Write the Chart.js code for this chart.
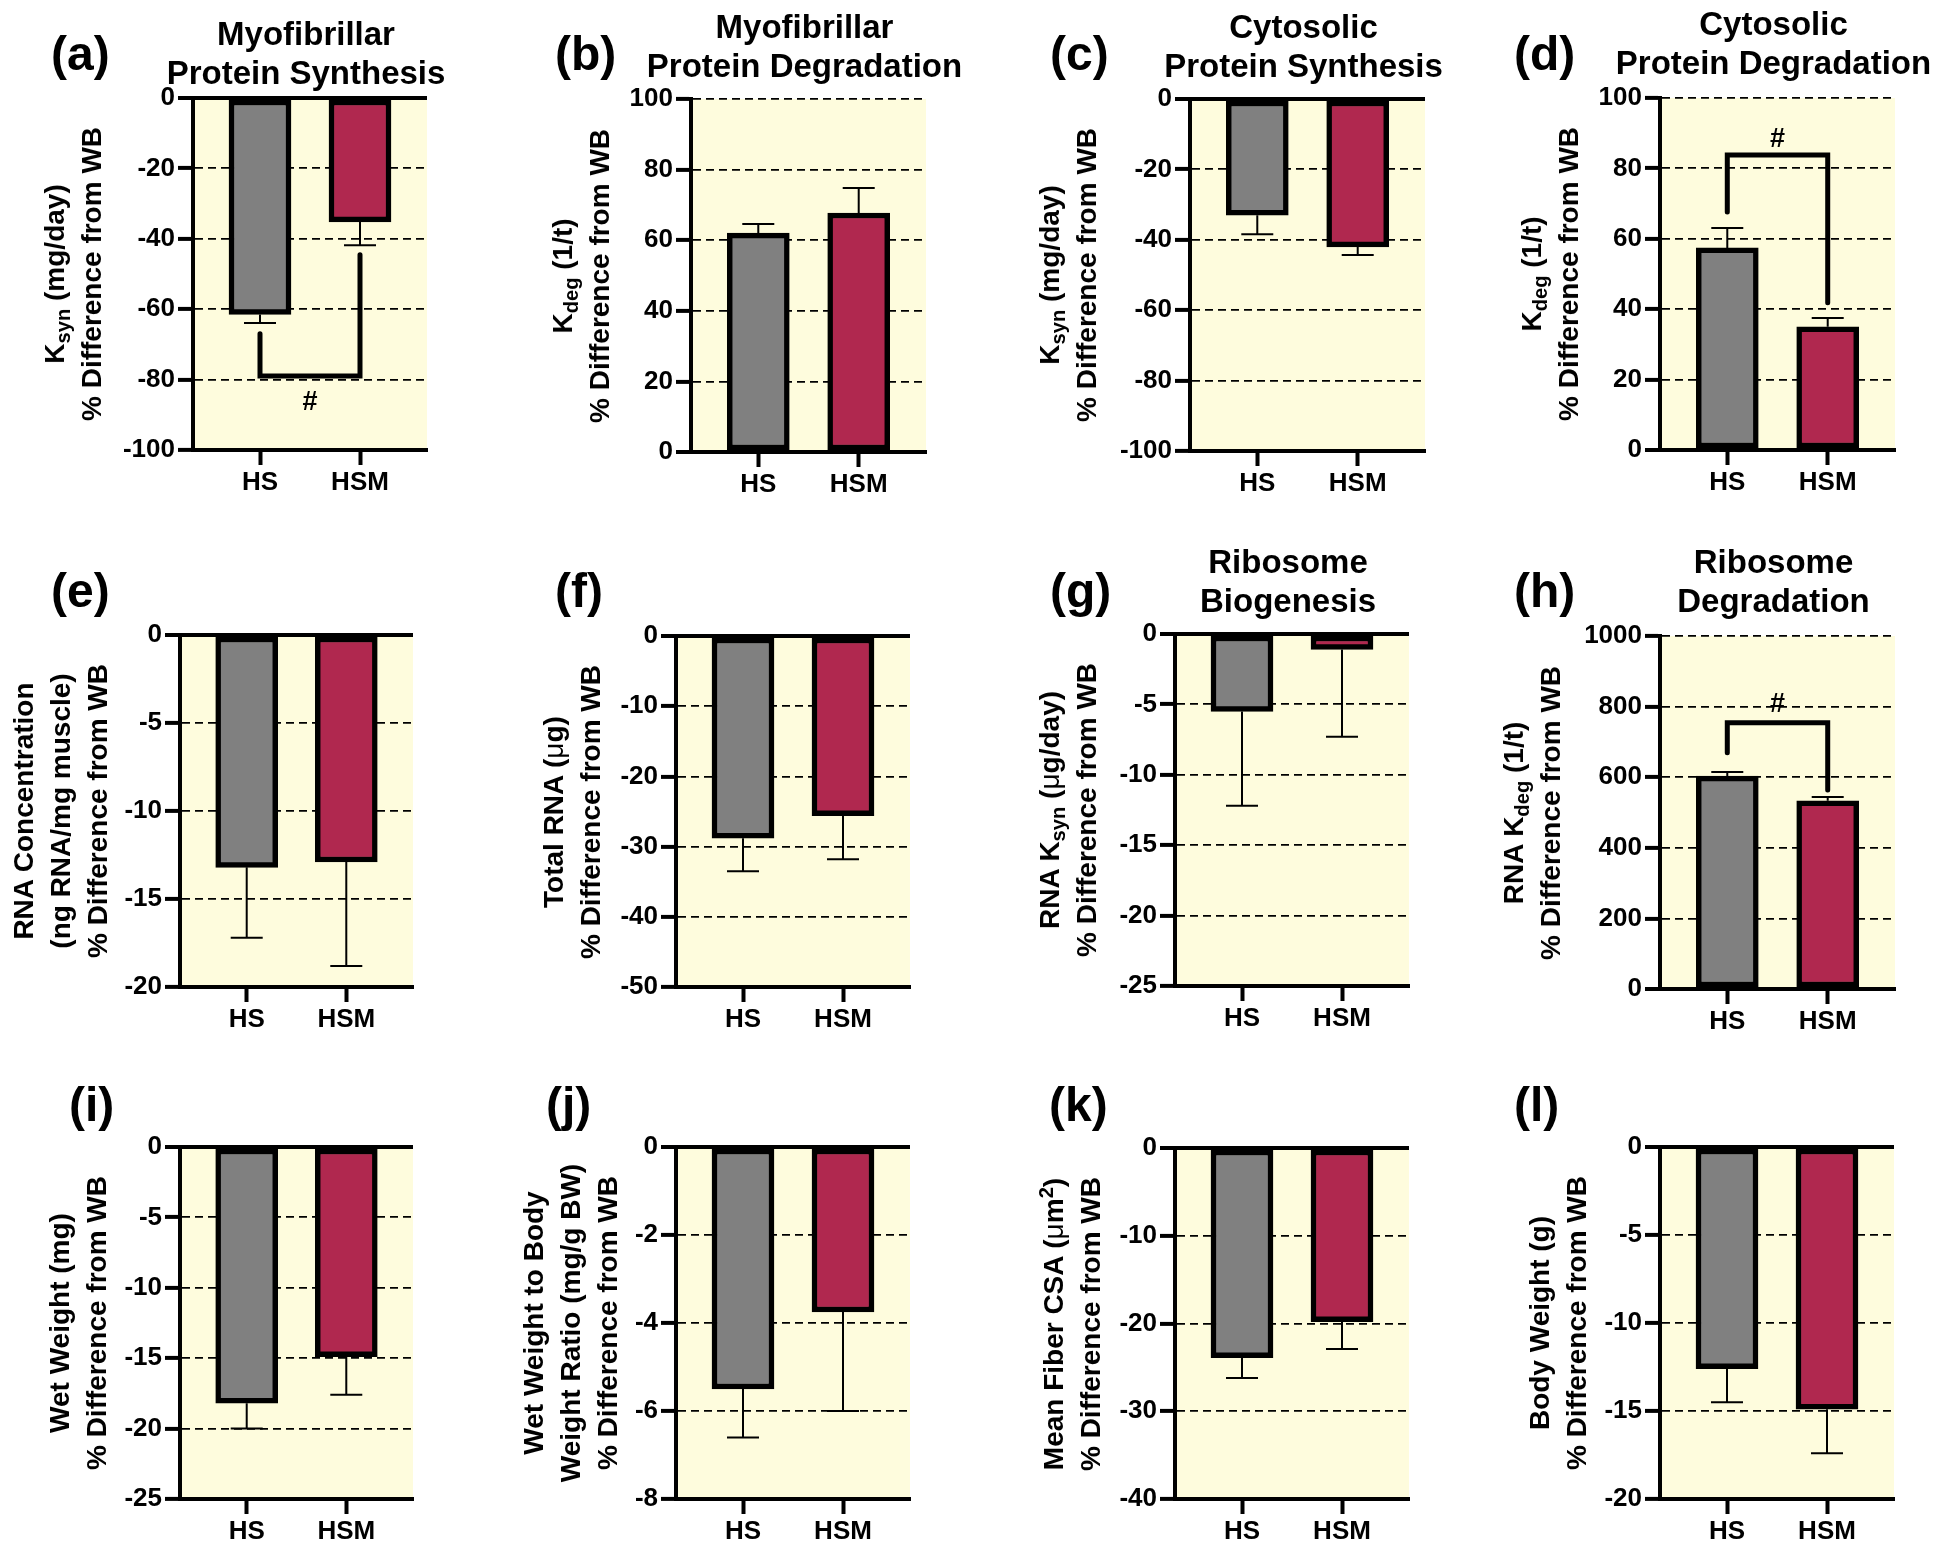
<!DOCTYPE html>
<html>
<head>
<meta charset="utf-8">
<script src="https://cdn.jsdelivr.net/npm/chart.js@4.4.1/dist/chart.umd.min.js"></script>
<style>
  html, body { margin: 0; padding: 0; background: #fff; }
  body {
    width: 1936px; height: 1548px; position: relative; overflow: hidden;
    font-family: "Liberation Sans", Arial, sans-serif; font-weight: bold; color: #000;
  }
  canvas { position: absolute; }
  .letter { position: absolute; font-size: 48px; line-height: 48px; white-space: nowrap; }
  .title { position: absolute; font-size: 33px; line-height: 39px; text-align: center; white-space: nowrap; transform: translateX(-50%); }
  .ytitle { position: absolute; font-size: 28px; line-height: 37px; text-align: center; white-space: nowrap; transform: translate(-50%, -50%) rotate(-90deg); }
  sub { font-size: 0.72em; vertical-align: -0.32em; line-height: 0; }
  sup { font-size: 0.72em; vertical-align: 0.5em; line-height: 0; }
  .mu { font-weight: normal; }
</style>
</head>
<body>
<script>
// Panel data (a)..(l): % difference from WB
const groups = ['HS', 'HSM'];
const panelLetters = ['(a)', '(b)', '(c)', '(d)', '(e)', '(f)', '(g)', '(h)', '(i)', '(j)', '(k)', '(l)'];

const hsValues  = [-61.5, 62.0, -33.0, 57.4, -13.2, -28.8, -5.5, 603, -18.2, -5.5, -23.9, -12.6];
const hsmValues = [-35.2, 67.7, -42.0, 35.0, -12.9, -25.6, -1.1, 533, -14.9, -3.75, -19.8, -14.9];
const hsErrors  = [2.4, 2.6, 5.4, 5.7, 4.0, 4.7, 6.7, 12, 1.8, 1.1, 2.3, 1.9];
const hsmErrors = [6.6, 7.1, 2.3, 2.5, 5.9, 6.2, 6.2, 11, 2.7, 2.25, 3.1, 2.5];

const yMin  = [-100, 0, -100, 0, -20, -50, -25, 0, -25, -8, -40, -20];
const yMax  = [0, 100, 0, 100, 0, 0, 0, 1000, 0, 0, 0, 0];
const yStep = [20, 20, 20, 20, 5, 10, 5, 200, 5, 2, 10, 5];

// significance brackets (#): panel index, end values, bracket level, mark baseline
const bracketPanels = [0, 3, 7];
const bracketHsEnd  = [-67, 67.6, 669];
const bracketHsmEnd = [-44.5, 41.8, 564];
const bracketLevel  = [-79, 83.8, 754];
const markLevel     = [-88.6, 86.1, 785];

const panelTitles = [
  ['Myofibrillar', 'Protein Synthesis'], ['Myofibrillar', 'Protein Degradation'],
  ['Cytosolic', 'Protein Synthesis'], ['Cytosolic', 'Protein Degradation'],
  null, null, ['Ribosome', 'Biogenesis'], ['Ribosome', 'Degradation'],
  null, null, null, null
];
const yTitles = [
  ['K<sub>syn</sub> (mg/day)', '% Difference from WB'],
  ['K<sub>deg</sub> (1/t)', '% Difference from WB'],
  ['K<sub>syn</sub> (mg/day)', '% Difference from WB'],
  ['K<sub>deg</sub> (1/t)', '% Difference from WB'],
  ['RNA Concentration', '(ng RNA/mg muscle)', '% Difference from WB'],
  ['Total RNA (<span class="mu">μ</span>g)', '% Difference from WB'],
  ['RNA K<sub>syn</sub> (<span class="mu">μ</span>g/day)', '% Difference from WB'],
  ['RNA K<sub>deg</sub> (1/t)', '% Difference from WB'],
  ['Wet Weight (mg)', '% Difference from WB'],
  ['Wet Weight to Body', 'Weight Ratio (mg/g BW)', '% Difference from WB'],
  ['Mean Fiber CSA (<span class="mu">μ</span>m<sup>2</sup>)', '% Difference from WB'],
  ['Body Weight (g)', '% Difference from WB']
];

// layout: plot area boxes [left, top, right, bottom] in page pixels
const plotBoxes = [
  [193, 98, 427, 450], [691, 99, 926, 452], [1190, 99, 1425, 451], [1660, 98, 1895, 450],
  [180, 635, 413, 987], [676, 636, 910, 987], [1175, 634, 1409, 986], [1660, 636, 1895, 989],
  [180, 1147, 413, 1499], [676, 1147, 910, 1499], [1175, 1148, 1409, 1499], [1660, 1147, 1894, 1499]
];
const yTitleX = [73, 581, 1068, 1550, 60, 572, 1068, 1532, 78, 570, 1072, 1558];
const titleTop = [14, 7, 7, 4, 0, 0, 542, 542, 0, 0, 0, 0];
const letterLeft = [51, 555, 1050, 1514, 51, 555, 1050, 1514, 69, 546, 1049, 1514];
const letterBaseline = [71, 71, 71, 71, 608, 608, 608, 608, 1122, 1122, 1122, 1122];

const PAD_L = 190, PAD_T = 100, PAD_R = 40, PAD_B = 60;
const FONT = '"Liberation Sans", Arial, sans-serif';
const barColors = ['#808080', '#B0284F'];
const plotFill = '#FEFCDD';

Chart.defaults.font.family = FONT;
Chart.defaults.font.weight = 'bold';
Chart.defaults.color = '#000';

const plotBackground = {
  id: 'plotBackground',
  beforeDraw(chart) {
    const { ctx, chartArea: a } = chart;
    ctx.save();
    ctx.fillStyle = plotFill;
    ctx.fillRect(a.left, a.top, a.right - a.left, a.bottom - a.top);
    ctx.restore();
  }
};

// SEM error bars pointing away from zero, plus # brackets
const errorBars = {
  id: 'errorBars',
  afterDatasetsDraw(chart, args, opts) {
    const i = opts.panel;
    const { ctx, scales: { x, y } } = chart;
    const vals = [hsValues[i], hsmValues[i]];
    const errs = [hsErrors[i], hsmErrors[i]];
    ctx.save();
    ctx.strokeStyle = '#000';
    ctx.lineWidth = 2;
    vals.forEach((v, k) => {
      const px = x.getPixelForValue(k);
      const end = v < 0 ? v - errs[k] : v + errs[k];
      const y0 = y.getPixelForValue(v);
      const y1 = y.getPixelForValue(end);
      ctx.beginPath();
      ctx.moveTo(px, y0);
      ctx.lineTo(px, y1);
      ctx.moveTo(px - 16, y1);
      ctx.lineTo(px + 16, y1);
      ctx.stroke();
    });

    const b = bracketPanels.indexOf(i);
    if (b >= 0) {
      const x0 = x.getPixelForValue(0), x1 = x.getPixelForValue(1);
      ctx.lineWidth = 5;
      ctx.lineCap = 'round';
      ctx.lineJoin = 'miter';
      ctx.beginPath();
      ctx.moveTo(x0, y.getPixelForValue(bracketHsEnd[b]));
      ctx.lineTo(x0, y.getPixelForValue(bracketLevel[b]));
      ctx.lineTo(x1, y.getPixelForValue(bracketLevel[b]));
      ctx.lineTo(x1, y.getPixelForValue(bracketHsmEnd[b]));
      ctx.stroke();
      ctx.fillStyle = '#000';
      ctx.font = 'bold 27px ' + FONT;
      ctx.textAlign = 'center';
      ctx.textBaseline = 'alphabetic';
      ctx.fillText('#', (x0 + x1) / 2, y.getPixelForValue(markLevel[b]));
    }
    ctx.restore();
  }
};

function makePanel(i) {
  const [L, T, R, B] = plotBoxes[i];
  const canvas = document.createElement('canvas');
  canvas.width = (R - L) + PAD_L + PAD_R;
  canvas.height = (B - T) + PAD_T + PAD_B;
  canvas.style.left = (L - PAD_L) + 'px';
  canvas.style.top = (T - PAD_T) + 'px';
  document.body.appendChild(canvas);

  const lo = yMin[i], hi = yMax[i], step = yStep[i];

  new Chart(canvas, {
    type: 'bar',
    data: {
      datasets: [{
        data: [{ x: 0, y: hsValues[i] }, { x: 1, y: hsmValues[i] }],
        backgroundColor: barColors,
        borderColor: '#000',
        borderWidth: 5.5,
        borderSkipped: false,
        barThickness: 62
      }]
    },
    options: {
      responsive: false,
      animation: false,
      events: [],
      layout: { padding: { top: PAD_T, right: PAD_R, left: 0, bottom: 0 } },
      plugins: {
        legend: { display: false },
        tooltip: { enabled: false },
        errorBars: { panel: i }
      },
      scales: {
        x: {
          type: 'linear',
          offset: false,
          min: -0.67,
          max: 1.67,
          afterBuildTicks: s => { s.ticks = [{ value: 0 }, { value: 1 }]; },
          afterFit: s => { s.height = PAD_B; },
          ticks: {
            autoSkip: false,
            maxRotation: 0,
            padding: 2,
            font: { size: 26, weight: 'bold' },
            color: '#000',
            callback: v => groups[v] ?? ''
          },
          grid: {
            offset: false,
            drawOnChartArea: false,
            drawTicks: true,
            tickLength: 15,
            tickWidth: 4,
            tickColor: '#000'
          },
          border: { display: true, color: '#000', width: 4 }
        },
        y: {
          min: lo,
          max: hi,
          afterBuildTicks: s => {
            const t = [];
            for (let v = lo; v <= hi + 1e-9; v += step) t.push({ value: Math.round(v * 1000) / 1000 });
            s.ticks = t;
          },
          afterFit: s => { s.width = PAD_L; },
          ticks: {
            autoSkip: false,
            padding: 3,
            font: { size: 26, weight: 'bold' },
            color: '#000',
            callback: v => String(v)
          },
          grid: {
            drawTicks: true,
            tickLength: 15,
            tickWidth: 4,
            tickColor: '#000',
            color: c => (c.tick && c.tick.value === lo) ? 'rgba(0,0,0,0)' : '#000',
            lineWidth: c => (c.tick && c.tick.value === 0) ? 4 : 1.8
          },
          border: {
            display: true,
            color: '#000',
            width: 4,
            dash: c => (c.tick && c.tick.value === 0) ? [] : [8, 5]
          }
        }
      }
    },
    plugins: [plotBackground, errorBars]
  });

  // panel letter
  const letter = document.createElement('div');
  letter.className = 'letter';
  letter.textContent = panelLetters[i];
  letter.style.left = letterLeft[i] + 'px';
  letter.style.top = (letterBaseline[i] - 41) + 'px';
  document.body.appendChild(letter);

  // panel title
  if (panelTitles[i]) {
    const t = document.createElement('div');
    t.className = 'title';
    t.innerHTML = panelTitles[i].join('<br>');
    t.style.left = ((L + R) / 2 - 4) + 'px';
    t.style.top = titleTop[i] + 'px';
    document.body.appendChild(t);
  }

  // y axis title
  const yt = document.createElement('div');
  yt.className = 'ytitle';
  yt.innerHTML = yTitles[i].join('<br>');
  yt.style.left = yTitleX[i] + 'px';
  yt.style.top = ((T + B) / 2) + 'px';
  document.body.appendChild(yt);
}

for (let i = 0; i < plotBoxes.length; i++) makePanel(i);
</script>
</body>
</html>
